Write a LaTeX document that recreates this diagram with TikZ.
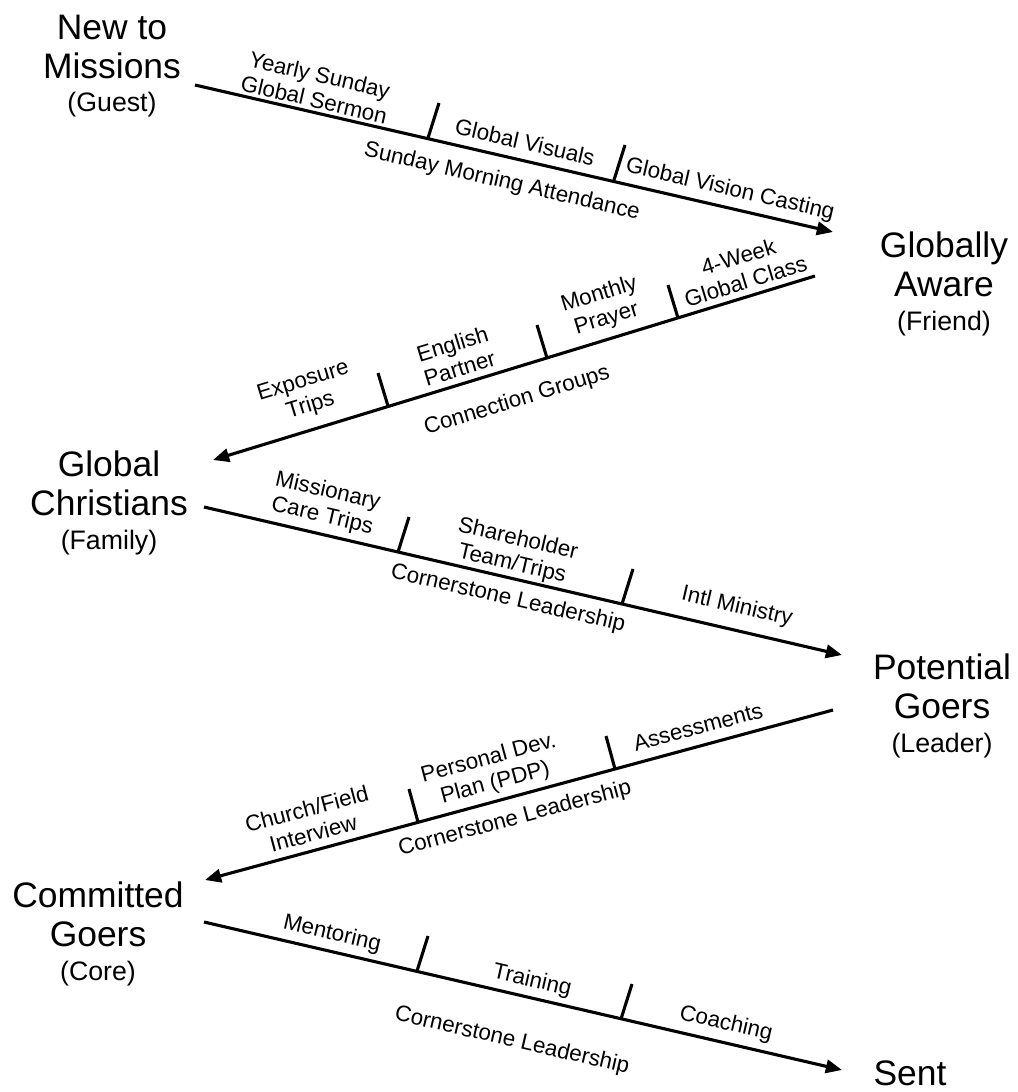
\documentclass[tikz,border=0pt]{standalone}
\usepackage{fontspec}
\setmainfont{Liberation Sans}
\usetikzlibrary{arrows.meta}

\tikzset{
  stage/.style={line width=2.2pt, -{Triangle[length=11.5pt,width=9.5pt]}},
  tickmark/.style={line width=2.2pt},
  lbl/.style={font=\fontsize{15.9}{18}\selectfont, align=center, inner sep=0pt},
  title/.style={font=\fontsize{25.2}{27.7}\selectfont, align=center, inner sep=0pt},
}
\newcommand{\rolename}[1]{{\fontsize{19}{22}\selectfont #1}}

\begin{document}
\begin{tikzpicture}[x=0.025cm, y=-0.025cm]
    \useasboundingbox (0,0) rectangle (1018,1092);

    % stages
    \node[title] (newm) at (112,66) {New to\\Missions\\[-4pt]\rolename{(Guest)}};
    \node[title] (aware) at (944,284) {Globally\\Aware\\[-4pt]\rolename{(Friend)}};
    \node[title] (christ) at (109,503) {Global\\Christians\\[-4pt]\rolename{(Family)}};
    \node[title] (potential) at (942,706) {Potential\\Goers\\[-4pt]\rolename{(Leader)}};
    \node[title] (committed) at (98,934) {Committed\\Goers\\[-4pt]\rolename{(Core)}};
    \node[title] (sent) at (910,1073) {Sent};

    % line ends
    \coordinate (s1) at (195,85);  \coordinate (e1) at (833,232);
    \coordinate (s2) at (815,276); \coordinate (e2) at (213,460);
    \coordinate (s3) at (204,507); \coordinate (e3) at (842,655);
    \coordinate (s4) at (833,710); \coordinate (e4) at (205,880);
    \coordinate (s5) at (204,922); \coordinate (e5) at (842,1070);

    \draw[stage] (s1) -- (e1);
    \draw[stage] (s2) -- (e2);
    \draw[stage] (s3) -- (e3);
    \draw[stage] (s4) -- (e4);
    \draw[stage] (s5) -- (e5);

    % ticks
    \draw[tickmark] (428,138) -- ++(11,-35);
    \draw[tickmark] (614,180) -- ++(11,-35);
    \draw[tickmark] (388,406) -- ++(-10,-33);
    \draw[tickmark] (547,358) -- ++(-10,-33);
    \draw[tickmark] (678,318) -- ++(-10,-33);
    \draw[tickmark] (398,552) -- ++(11,-35);
    \draw[tickmark] (622,604) -- ++(11,-35);
    \draw[tickmark] (418,822) -- ++(-9,-33);
    \draw[tickmark] (615,769) -- ++(-9,-33);
    \draw[tickmark] (417,971) -- ++(11,-35);
    \draw[tickmark] (621,1019) -- ++(11,-35);

    % guest -> friend
    \node[lbl, rotate=-13] (l11) at (317,87) {Yearly Sunday\\Global Sermon};
    \node[lbl, rotate=-13] (l12) at (525,142) {Global Visuals};
    \node[lbl, rotate=-13] (l13) at (730,190) {Global Vision Casting};
    \node[lbl, rotate=-13] (l14) at (502,182) {Sunday Morning Attendance};

    % friend -> family
    \node[lbl, rotate=17] (l21) at (307,394) {Exposure\\Trips};
    \node[lbl, rotate=17] (l22) at (456,356) {English\\Partner};
    \node[lbl, rotate=17] (l23) at (603,307) {Monthly\\Prayer};
    \node[lbl, rotate=17] (l24) at (742,269) {4-Week\\Global Class};
    \node[lbl, rotate=17] (l25) at (517,401) {Connection Groups};

    % family -> leader
    \node[lbl, rotate=-13] (l31) at (325,504) {Missionary\\Care Trips};
    \node[lbl, rotate=-13] (l32) at (515,552) {Shareholder\\Team/Trips};
    \node[lbl, rotate=-13] (l33) at (737,607) {Intl Ministry};
    \node[lbl, rotate=-13] (l34) at (508,599) {Cornerstone Leadership};

    % leader -> core
    \node[lbl, rotate=15] (l41) at (310,821) {Church/Field\\Interview};
    \node[lbl, rotate=15] (l42) at (492,771) {Personal Dev.\\Plan (PDP)};
    \node[lbl, rotate=15] (l43) at (698,727) {Assessments};
    \node[lbl, rotate=15] (l44) at (515,819) {Cornerstone Leadership};

    % core -> sent
    \node[lbl, rotate=-13] (l51) at (332,934) {Mentoring};
    \node[lbl, rotate=-13] (l52) at (532,981) {Training};
    \node[lbl, rotate=-13] (l53) at (726,1024) {Coaching};
    \node[lbl, rotate=-13] (l54) at (512,1041) {Cornerstone Leadership};
\end{tikzpicture}
\end{document}
